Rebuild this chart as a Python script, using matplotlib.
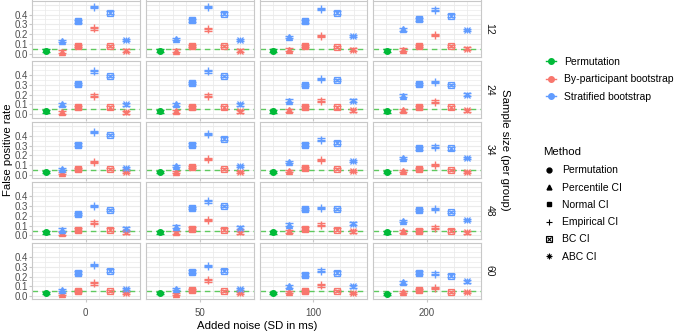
import numpy as np
import matplotlib
matplotlib.use("Agg")
import matplotlib.pyplot as plt
from matplotlib.lines import Line2D

plt.rcParams["font.family"] = ["Liberation Sans", "DejaVu Sans"]

noise = [0, 50, 100, 200]
sizes = [12, 24, 34, 48, 60]
ci_types = ["Percentile CI", "Normal CI", "Empirical CI", "BC CI", "ABC CI"]

# false positive rate, rows = sample size, cols = added noise
perm = [[0.03, 0.03, 0.03, 0.03],
        [0.03, 0.03, 0.03, 0.03],
        [0.03, 0.03, 0.03, 0.03],
        [0.03, 0.03, 0.03, 0.03],
        [0.03, 0.03, 0.03, 0.02]]

# by-participant bootstrap: [percentile, normal, empirical, BC, ABC]
by_part = [
    [[0.02, 0.08, 0.26, 0.08, 0.03], [0.03, 0.08, 0.25, 0.08, 0.03],
     [0.04, 0.08, 0.18, 0.07, 0.04], [0.04, 0.08, 0.19, 0.08, 0.05]],
    [[0.02, 0.07, 0.19, 0.07, 0.02], [0.03, 0.07, 0.19, 0.07, 0.03],
     [0.04, 0.07, 0.14, 0.07, 0.04], [0.04, 0.07, 0.13, 0.07, 0.04]],
    [[0.02, 0.06, 0.13, 0.06, 0.03], [0.03, 0.08, 0.16, 0.06, 0.03],
     [0.04, 0.07, 0.15, 0.06, 0.04], [0.04, 0.06, 0.10, 0.05, 0.03]],
    [[0.02, 0.06, 0.13, 0.06, 0.03], [0.03, 0.07, 0.16, 0.06, 0.03],
     [0.04, 0.07, 0.11, 0.06, 0.04], [0.04, 0.05, 0.08, 0.05, 0.03]],
    [[0.02, 0.05, 0.13, 0.05, 0.03], [0.02, 0.06, 0.16, 0.05, 0.03],
     [0.04, 0.05, 0.11, 0.05, 0.03], [0.04, 0.06, 0.08, 0.04, 0.04]],
]

# stratified bootstrap
strat = [
    [[0.13, 0.33, 0.48, 0.42, 0.14], [0.15, 0.34, 0.48, 0.41, 0.14],
     [0.17, 0.33, 0.46, 0.42, 0.18], [0.25, 0.35, 0.45, 0.39, 0.24]],
    [[0.10, 0.31, 0.44, 0.39, 0.10], [0.10, 0.32, 0.44, 0.39, 0.10],
     [0.14, 0.30, 0.36, 0.35, 0.14], [0.19, 0.31, 0.33, 0.30, 0.20]],
    [[0.06, 0.31, 0.44, 0.41, 0.07], [0.09, 0.31, 0.42, 0.37, 0.09],
     [0.13, 0.31, 0.36, 0.33, 0.14], [0.17, 0.27, 0.29, 0.27, 0.17]],
    [[0.06, 0.22, 0.30, 0.26, 0.07], [0.09, 0.28, 0.35, 0.30, 0.08],
     [0.11, 0.27, 0.28, 0.27, 0.12], [0.15, 0.26, 0.27, 0.24, 0.16]],
    [[0.06, 0.24, 0.32, 0.26, 0.07], [0.07, 0.25, 0.31, 0.26, 0.07],
     [0.10, 0.22, 0.26, 0.24, 0.10], [0.14, 0.24, 0.23, 0.21, 0.15]],
]
ci_half = 0.013  # half width of the error bars

GREEN, RED, BLUE = "#00BA38", "#F8766D", "#619CFF"
shapes = ["^", "s", "+", "bc", "abc"]

W, H = 677, 335
fig = plt.figure(figsize=(W / 100, H / 100), dpi=100)

col_left = [32, 146, 259.5, 373]
col_w = 107.5
row_top = [0.5 + 60.6 * i for i in range(5)]
row_h = 56.5
xl = 3.35


def draw_marker(ax, x, y, shape, color):
    if shape == "bc":
        ax.plot(x, y, marker="s", ms=4.5, mfc="none", mec=color, mew=0.9, zorder=4)
        ax.plot(x, y, marker="x", ms=3.5, mec=color, mew=0.9, zorder=4)
    elif shape == "abc":
        ax.plot(x, y, marker="+", ms=5, mec=color, mew=0.9, zorder=4)
        ax.plot(x, y, marker="x", ms=4, mec=color, mew=0.9, zorder=4)
    elif shape == "+":
        ax.plot(x, y, marker="+", ms=5.5, mec=color, mew=1.0, zorder=4)
    else:
        ax.plot(x, y, marker=shape, ms=4.5, color=color, mec=color, zorder=4)


for r, n in enumerate(sizes):
    for c, nz in enumerate(noise):
        ax = fig.add_axes([col_left[c] / W, 1 - (row_top[r] + row_h) / H,
                           col_w / W, row_h / H])
        ax.set_xlim(-xl, xl)
        ax.set_ylim(-0.035, 0.545)
        for g in np.arange(0, 0.55, 0.05):
            ax.axhline(g, color="#EBEBEB", lw=0.8 if g * 20 % 2 < 0.5 else 0.5, zorder=0)
        for g in np.linspace(-xl, xl, 9)[1:-1]:
            ax.axvline(g, color="#EBEBEB", lw=0.6, zorder=0)
        ax.axhline(0.05, color="#5FC95F", lw=1.0, ls=(0, (4, 3)), zorder=1)

        xs = np.arange(6) - 2.5
        ax.errorbar(xs[0], perm[r][c], yerr=ci_half, color=GREEN, capsize=2.6,
                    lw=1.0, capthick=1.0, zorder=3)
        ax.plot(xs[0], perm[r][c], "o", ms=4, color=GREEN, zorder=4)
        for k in range(5):
            for vals, col in ((by_part, RED), (strat, BLUE)):
                v = vals[r][c][k]
                ax.errorbar(xs[k + 1], v, yerr=ci_half, color=col, capsize=2.6,
                            lw=1.0, capthick=1.0, zorder=3)
                draw_marker(ax, xs[k + 1], v, shapes[k], col)

        for s in ax.spines.values():
            s.set_color("#C8C8C8")
            s.set_linewidth(0.8)
        ax.tick_params(length=2, color="#C8C8C8", labelsize=7,
                       labelcolor="#4D4D4D", pad=1)
        ax.tick_params(axis="x", pad=4)
        ax.set_xticks([0])
        if r == 4:
            ax.set_xticklabels([str(nz)])
        else:
            ax.set_xticklabels([])
        ax.set_yticks([0.0, 0.1, 0.2, 0.3, 0.4])
        if c == 0:
            ax.set_yticklabels(["0.0", "0.1", "0.2", "0.3", "0.4"])
        else:
            ax.set_yticklabels([])
            ax.tick_params(axis="y", length=0)
        if c == 3:
            ax.text(1.0 + 9 / col_w, 0.5, str(n), transform=ax.transAxes,
                    rotation=-90, va="center", ha="center", fontsize=7.5,
                    color="#1A1A1A")

fig.text(8 / W, 1 - 150 / H, "False positive rate", rotation=90,
         va="center", ha="center", fontsize=8.2)
fig.text(257 / W, 1 - 326 / H, "Added noise (SD in ms)", va="center",
         ha="center", fontsize=8.2)
fig.text(505 / W, 1 - 150 / H, "Sample size (per group)", rotation=-90,
         va="center", ha="center", fontsize=8.2)

h1 = [Line2D([], [], color=col, marker="o", ms=4, lw=1.0)
      for col in (GREEN, RED, BLUE)]
leg1 = fig.legend(h1, ["Permutation", "By-participant bootstrap", "Stratified bootstrap"],
                  loc="upper left", bbox_to_anchor=(546 / W, 1 - 57 / H),
                  frameon=False, fontsize=7.5, handlelength=1.0,
                  handletextpad=0.75, labelspacing=0.7, borderpad=0,
                  borderaxespad=0)

h2 = [Line2D([], [], color="black", marker="o", ms=3.5, ls="none"),
      Line2D([], [], color="black", marker="^", ms=3.5, ls="none"),
      Line2D([], [], color="black", marker="s", ms=3.5, ls="none"),
      Line2D([], [], color="black", marker="+", ms=5, mew=0.8, ls="none"),
      (Line2D([], [], color="black", marker="s", ms=4, mfc="none", mew=0.8, ls="none"),
       Line2D([], [], color="black", marker="x", ms=3, mew=0.8, ls="none")),
      (Line2D([], [], color="black", marker="+", ms=4.5, mew=0.8, ls="none"),
       Line2D([], [], color="black", marker="x", ms=3.5, mew=0.8, ls="none"))]
leg2 = fig.legend(h2, ["Permutation"] + ci_types, title="Method",
                  loc="upper left", bbox_to_anchor=(543 / W, 1 - 147 / H),
                  frameon=False, fontsize=7.5, title_fontsize=8.2,
                  handlelength=1.1, handletextpad=0.7, labelspacing=0.7,
                  borderpad=0, borderaxespad=0)
leg2._legend_box.align = "left"
leg2._legend_box.sep = 6

fig.savefig("out.png", dpi=100)
